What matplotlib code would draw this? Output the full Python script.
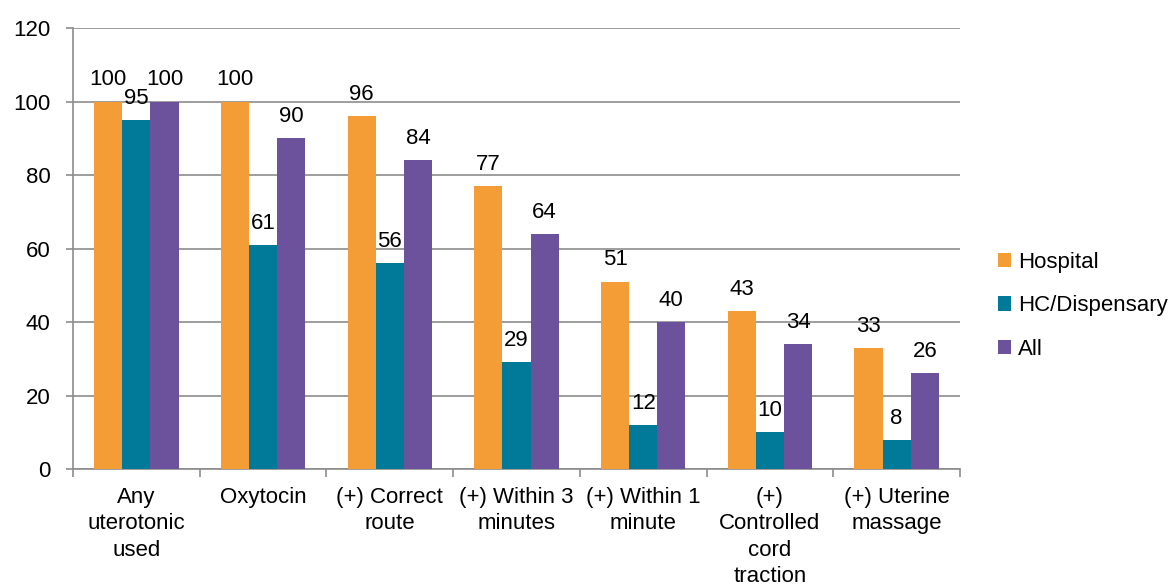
import numpy as np
import matplotlib.pyplot as plt

plt.rcParams['font.family'] = ['Liberation Sans', 'DejaVu Sans']

categories = [
    "Any\nuterotonic\nused",
    "Oxytocin",
    "(+) Correct\nroute",
    "(+) Within 3\nminutes",
    "(+) Within 1\nminute",
    "(+)\nControlled\ncord\ntraction",
    "(+) Uterine\nmassage",
]
hospital = [100, 100, 96, 77, 51, 43, 33]
hc_dispensary = [95, 61, 56, 29, 12, 10, 8]
all_facilities = [100, 90, 84, 64, 40, 34, 26]

series = [
    ("Hospital", hospital, "#F49C35"),
    ("HC/Dispensary", hc_dispensary, "#017A99"),
    ("All", all_facilities, "#6C529C"),
]

fs = 16
fig = plt.figure(figsize=(11.73, 5.87), dpi=100)
ax = fig.add_axes([0.0622, 0.201, 0.7562, 0.7513])

x = np.arange(len(categories))
w = 0.222
grid_col = "#8c8c8c"

for i, (name, vals, col) in enumerate(series):
    pos = x + (i - 1) * w
    ax.bar(pos, vals, width=w, color=col, label=name, zorder=3)
    for px, v in zip(pos, vals):
        ax.annotate(str(v), (px, v), xytext=(0, 8), textcoords="offset points",
                    ha="center", va="bottom", fontsize=fs, color="black")

ax.set_ylim(0, 120)
ax.set_xlim(-0.5, len(categories) - 0.5)
ax.set_yticks(range(0, 121, 20))
ax.yaxis.grid(True, color=grid_col, lw=1.2, zorder=0)
ax.set_axisbelow(True)

ax.set_xticks(x)
ax.set_xticklabels(categories, fontsize=fs, linespacing=1.33)
ax.set_xticks(np.arange(-0.5, len(categories)), minor=True)
ax.tick_params(axis="x", which="major", length=0, pad=13)
ax.tick_params(axis="x", which="minor", length=6, width=1.2, color=grid_col)
ax.tick_params(axis="y", labelsize=fs, length=5, width=1.2, color=grid_col, pad=11)

for s in ("top", "right"):
    ax.spines[s].set_visible(False)
for s in ("left", "bottom"):
    ax.spines[s].set_color(grid_col)
    ax.spines[s].set_linewidth(1.2)

ax.legend(loc="center left", bbox_to_anchor=(1.02, 0.37), frameon=False,
          fontsize=fs, handlelength=0.6, handleheight=0.6, handletextpad=0.3,
          labelspacing=1.0)

fig.savefig("out.png", dpi=100)
